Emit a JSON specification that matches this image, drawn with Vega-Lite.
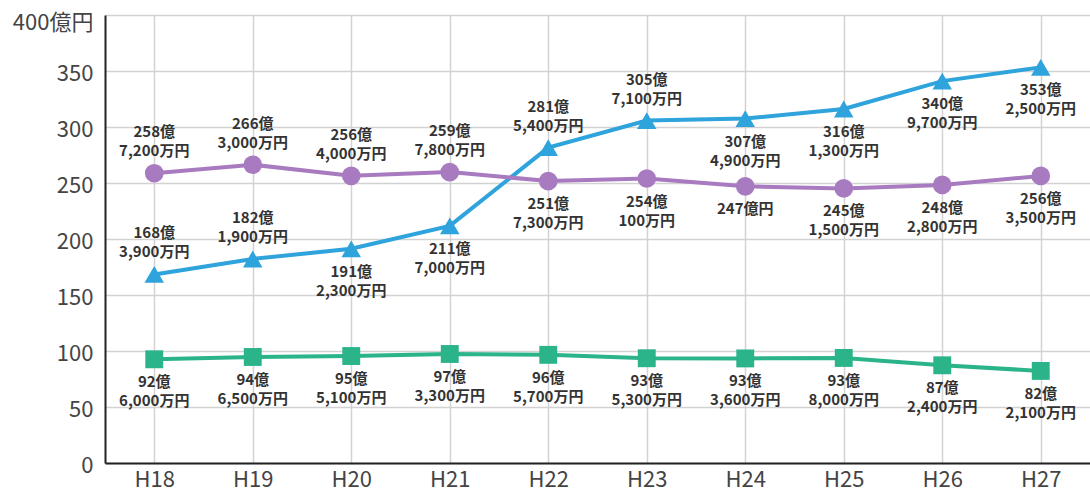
{
  "$schema": "https://vega.github.io/schema/vega-lite/v6.json",
  "width": 985,
  "height": 448,
  "autosize": {"type": "none"},
  "padding": {"left": 105, "top": 15, "right": 0, "bottom": 28},
  "background": "white",
  "config": {"view": {"stroke": null}, "font": "Noto Sans CJK JP"},
  "data": {
    "values": [
      {"series": "A", "year": "H18", "value": 168.39, "label": "168億\n3,900万円", "pos": "above"},
      {"series": "A", "year": "H19", "value": 182.19, "label": "182億\n1,900万円", "pos": "above"},
      {"series": "A", "year": "H20", "value": 191.23, "label": "191億\n2,300万円", "pos": "below"},
      {"series": "A", "year": "H21", "value": 211.70, "label": "211億\n7,000万円", "pos": "below"},
      {"series": "A", "year": "H22", "value": 281.54, "label": "281億\n5,400万円", "pos": "above"},
      {"series": "A", "year": "H23", "value": 305.71, "label": "305億\n7,100万円", "pos": "above"},
      {"series": "A", "year": "H24", "value": 307.49, "label": "307億\n4,900万円", "pos": "below"},
      {"series": "A", "year": "H25", "value": 316.13, "label": "316億\n1,300万円", "pos": "below"},
      {"series": "A", "year": "H26", "value": 340.97, "label": "340億\n9,700万円", "pos": "below"},
      {"series": "A", "year": "H27", "value": 353.25, "label": "353億\n2,500万円", "pos": "below"},
      {"series": "B", "year": "H18", "value": 258.72, "label": "258億\n7,200万円", "pos": "above"},
      {"series": "B", "year": "H19", "value": 266.30, "label": "266億\n3,000万円", "pos": "above"},
      {"series": "B", "year": "H20", "value": 256.40, "label": "256億\n4,000万円", "pos": "above"},
      {"series": "B", "year": "H21", "value": 259.78, "label": "259億\n7,800万円", "pos": "above"},
      {"series": "B", "year": "H22", "value": 251.73, "label": "251億\n7,300万円", "pos": "below"},
      {"series": "B", "year": "H23", "value": 254.01, "label": "254億\n100万円", "pos": "below"},
      {"series": "B", "year": "H24", "value": 247.00, "label": "247億円", "pos": "below"},
      {"series": "B", "year": "H25", "value": 245.15, "label": "245億\n1,500万円", "pos": "below"},
      {"series": "B", "year": "H26", "value": 248.28, "label": "248億\n2,800万円", "pos": "below"},
      {"series": "B", "year": "H27", "value": 256.35, "label": "256億\n3,500万円", "pos": "below"},
      {"series": "C", "year": "H18", "value": 92.60, "label": "92億\n6,000万円", "pos": "below"},
      {"series": "C", "year": "H19", "value": 94.65, "label": "94億\n6,500万円", "pos": "below"},
      {"series": "C", "year": "H20", "value": 95.51, "label": "95億\n5,100万円", "pos": "below"},
      {"series": "C", "year": "H21", "value": 97.33, "label": "97億\n3,300万円", "pos": "below"},
      {"series": "C", "year": "H22", "value": 96.57, "label": "96億\n5,700万円", "pos": "below"},
      {"series": "C", "year": "H23", "value": 93.53, "label": "93億\n5,300万円", "pos": "below"},
      {"series": "C", "year": "H24", "value": 93.36, "label": "93億\n3,600万円", "pos": "below"},
      {"series": "C", "year": "H25", "value": 93.80, "label": "93億\n8,000万円", "pos": "below"},
      {"series": "C", "year": "H26", "value": 87.24, "label": "87億\n2,400万円", "pos": "below"},
      {"series": "C", "year": "H27", "value": 82.21, "label": "82億\n2,100万円", "pos": "below"}
    ]
  },
  "encoding": {
    "x": {
      "field": "year", "type": "ordinal", "sort": null,
      "scale": {"type": "point", "padding": 0.5},
      "axis": {
        "title": null, "domain": true, "domainColor": "#222", "domainWidth": 2,
        "ticks": false, "grid": true, "gridColor": "#d2d2d2", "gridWidth": 1.5,
        "labelFontSize": 22, "labelColor": "#444", "labelPadding": 6, "labelAngle": 0
      }
    },
    "y": {
      "field": "value", "type": "quantitative",
      "scale": {"domain": [0, 400], "nice": false},
      "axis": {
        "title": null, "values": [0, 50, 100, 150, 200, 250, 300, 350, 400],
        "labelExpr": "datum.value == 400 ? '400億円' : datum.label",
        "labelOffset": {"condition": {"test": "datum.value == 400", "value": 7}, "value": 2},
        "domain": true, "domainColor": "#222", "domainWidth": 2,
        "ticks": false, "grid": true, "gridColor": "#d2d2d2", "gridWidth": 1.5,
        "labelFontSize": 22, "labelColor": "#444", "labelPadding": 12
      }
    }
  },
  "layer": [
    {
      "mark": {"type": "line", "strokeWidth": 4},
      "encoding": {
        "color": {"field": "series", "type": "nominal", "scale": {"domain": ["A", "B", "C"], "range": ["#2ea3dc", "#a87bc0", "#2bb38a"]}, "legend": null}
      }
    },
    {
      "mark": {"type": "point", "filled": true, "opacity": 1},
      "encoding": {
        "color": {"field": "series", "type": "nominal", "scale": {"domain": ["A", "B", "C"], "range": ["#2ea3dc", "#a87bc0", "#2bb38a"]}, "legend": null},
        "shape": {"field": "series", "type": "nominal", "scale": {"domain": ["A", "B", "C"], "range": ["triangle-up", "circle", "square"]}, "legend": null},
        "size": {"field": "series", "type": "nominal", "scale": {"domain": ["A", "B", "C"], "range": [380, 320, 420]}, "legend": null}
      }
    },
    {
      "transform": [{"filter": "datum.pos == 'above'"}],
      "mark": {"type": "text", "baseline": "bottom", "dy": -33, "lineBreak": "\n", "lineHeight": 19, "fontSize": 15, "fontWeight": "bold", "color": "#333"},
      "encoding": {"text": {"field": "label"}}
    },
    {
      "transform": [{"filter": "datum.pos == 'below'"}],
      "mark": {"type": "text", "baseline": "top", "dy": 16, "lineBreak": "\n", "lineHeight": 19, "fontSize": 15, "fontWeight": "bold", "color": "#333"},
      "encoding": {"text": {"field": "label"}}
    }
  ]
}
